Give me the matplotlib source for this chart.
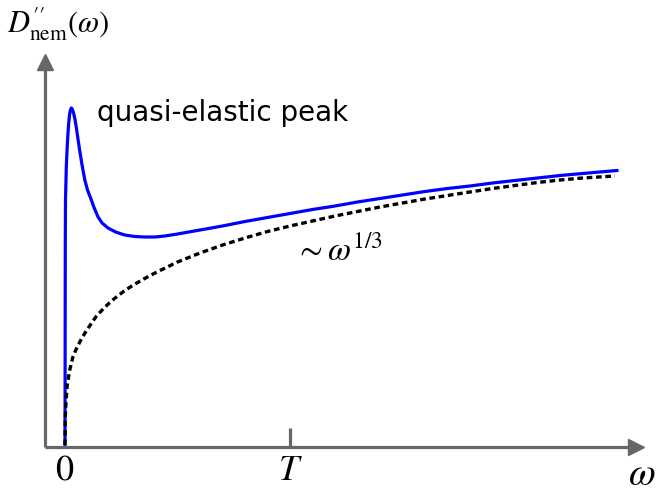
import numpy as np
import matplotlib
matplotlib.use('Agg')
import matplotlib.pyplot as plt

plt.rcParams['mathtext.fontset'] = 'stix'

# frequency in units of T, spectral weight in arbitrary units
omega_full = [0, 0.0009, 0.0013, 0.0022, 0.0058, 0.0095, 0.0133, 0.0165, 0.020,
              0.024, 0.028, 0.032, 0.038, 0.044, 0.050, 0.057, 0.065, 0.075,
              0.088, 0.100, 0.117, 0.130, 0.147, 0.165, 0.191, 0.225, 0.265,
              0.31, 0.354, 0.40, 0.444, 0.5, 0.6, 0.7, 0.8, 0.9, 1.0, 1.1, 1.2,
              1.3, 1.4, 1.5, 1.6, 1.7, 1.8, 1.9, 2.0, 2.1, 2.2, 2.3, 2.453]
D_full = [0, 1.45, 2.02, 2.45, 2.78, 2.97, 3.12, 3.22, 3.30,
          3.35, 3.37, 3.36, 3.32, 3.26, 3.18, 3.07, 2.95, 2.81,
          2.65, 2.55, 2.45, 2.37, 2.28, 2.22, 2.17, 2.13, 2.10,
          2.085, 2.08, 2.08, 2.09, 2.11, 2.15, 2.19, 2.235, 2.275, 2.315, 2.355, 2.39,
          2.43, 2.465, 2.50, 2.535, 2.565, 2.59, 2.62, 2.645, 2.67, 2.695, 2.715, 2.745]

omega_pow = [0, 0.001, 0.004, 0.01, 0.02, 0.035, 0.05, 0.075, 0.1, 0.14, 0.18,
             0.22, 0.26, 0.30, 0.35, 0.40, 0.45, 0.5, 0.6, 0.7, 0.8, 0.9, 1.0,
             1.1, 1.2, 1.3, 1.4, 1.5, 1.6, 1.7, 1.8, 1.9, 2.0, 2.1, 2.2, 2.3, 2.444]
D_pow = [0, 0.25, 0.42, 0.60, 0.74, 0.88, 0.96, 1.07, 1.16, 1.29, 1.385,
         1.465, 1.535, 1.595, 1.66, 1.72, 1.775, 1.83, 1.92, 2.00, 2.07, 2.135, 2.19,
         2.24, 2.29, 2.335, 2.38, 2.42, 2.46, 2.495, 2.53, 2.565, 2.595, 2.625, 2.65, 2.67, 2.69]

tick_pos = [0, 1]
tick_lab = ['$0$', '$T$']

W, H = 664, 496
fig = plt.figure(figsize=(W/100, H/100), dpi=100)
# axes box in pixels: x 45..636, y 62..447 (from top)
ax = fig.add_axes([45/W, (H-447)/H, (636-45)/W, (447-62)/H])
ax.set_xlim((45-65)/225, (636-65)/225)
ax.set_ylim(-0.02, 3.83)

gray = '#676767'
for s in ['top', 'right']:
    ax.spines[s].set_visible(False)
for s in ['left', 'bottom']:
    ax.spines[s].set_color(gray)
    ax.spines[s].set_linewidth(2.3)
    ax.spines[s].set_capstyle('butt')

# arrow heads
ax.plot(1, 0, '>', color=gray, ms=11, transform=ax.transAxes, clip_on=False)
ax.plot(0, 1, '^', color=gray, ms=11, transform=ax.transAxes, clip_on=False)

ax.plot(omega_full, D_full, color='blue', lw=2.3, clip_on=False,
        solid_joinstyle='round')
ax.plot(omega_pow, D_pow, color='black', lw=2.4, ls=(0, (1.7, 1.1)), clip_on=False)

ax.set_yticks([])
ax.set_xticks(tick_pos)
ax.set_xticklabels(tick_lab, fontsize=26)
ax.tick_params(axis='x', direction='in', length=14, width=2.3, color=gray, pad=4)
ax.xaxis.get_major_ticks()[0].tick1line.set_visible(False)

fig.text(642/W, 1-474/H, r'$\omega$', fontsize=28, ha='center', va='center')
fig.text(7/W, 1-33/H, r"$D^{\prime\prime}_{\rm nem}(\omega)$", fontsize=22,
         ha='left', va='baseline')
fig.text(97/W, 1-121/H, 'quasi-elastic peak', fontsize=20, ha='left', va='baseline')
fig.text(295/W, 1-261/H, r'$\sim\omega^{1/3}$', fontsize=24, ha='left', va='baseline')

fig.savefig('out.png', dpi=100)
